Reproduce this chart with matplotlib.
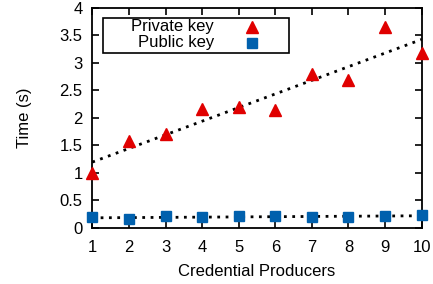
import matplotlib
matplotlib.use('Agg')
import matplotlib.pyplot as plt
from matplotlib.patches import Rectangle
from matplotlib.lines import Line2D
import numpy as np

plt.rcParams['font.family'] = ['Liberation Sans', 'DejaVu Sans']

# data
producers = [1, 2, 3, 4, 5, 6, 7, 8, 9, 10]
private_key = [0.99, 1.58, 1.71, 2.15, 2.19, 2.14, 2.80, 2.68, 3.65, 3.17]
public_key = [0.19, 0.15, 0.21, 0.19, 0.21, 0.21, 0.19, 0.19, 0.21, 0.23]
series_names = ['Private key', 'Public key']
y_ticks = [0, 0.5, 1, 1.5, 2, 2.5, 3, 3.5, 4]
y_labels = ['0', '0.5', '1', '1.5', '2', '2.5', '3', '3.5', '4']

RED = '#e00000'
BLUE = '#0060ad'
W, H = 433, 284

fig = plt.figure(figsize=(W / 100, H / 100), dpi=100)
ax = fig.add_axes([92.3 / W, 1 - 227.7 / H, (421.7 - 92.3) / W, (227.7 - 7.5) / H])

x = np.array(producers)
ax.plot(producers, private_key, linestyle='none', marker='^', color=RED,
        markersize=8, clip_on=False, zorder=3)
ax.plot(producers, public_key, linestyle='none', marker='s', color=BLUE,
        markersize=7.5, clip_on=False, zorder=3)

# linear trend lines
for series in (private_key, public_key):
    k, b = np.polyfit(x, series, 1)
    ax.plot(x, k * x + b, color='black', linestyle=(0, (1, 2)), linewidth=2, zorder=2)

ax.set_xlim(1, 10)
ax.set_ylim(0, 4)
ax.set_xticks(producers)
ax.set_yticks(y_ticks)
ax.set_yticklabels(y_labels)
ax.tick_params(direction='in', length=5, width=1.2, top=True, right=True,
               labelsize=12)
ax.tick_params(axis='y', pad=7)
ax.tick_params(axis='x', pad=9)
for s in ax.spines.values():
    s.set_linewidth(1.3)

ax.set_xlabel('Credential Producers', fontsize=12, labelpad=6)
ax.set_ylabel('Time (s)', fontsize=12, labelpad=20)

# gnuplot-style key: text right-aligned, sample on the right
fig.add_artist(Rectangle((102.7 / W, 1 - 52.7 / H), (289 - 102.7) / W, (52.7 - 18.3) / H,
                         transform=fig.transFigure, facecolor='white',
                         edgecolor='black', linewidth=1.2, zorder=5))
for i, (name, mk, col) in enumerate(zip(series_names, ['^', 's'], [RED, BLUE])):
    yy = 1 - (27 + 16 * i) / H
    fig.text(214 / W, yy, name, ha='right', va='center', fontsize=12, zorder=6)
    fig.add_artist(Line2D([252 / W], [yy], marker=mk, color=col, markersize=8 if mk == '^' else 7.5,
                          linestyle='none', transform=fig.transFigure, zorder=6))

plt.savefig('out.png', dpi=100)
